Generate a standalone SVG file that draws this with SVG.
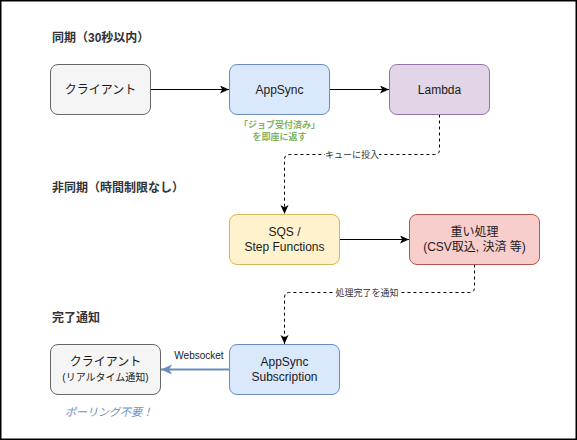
<svg xmlns="http://www.w3.org/2000/svg" width="577" height="440" viewBox="0 0 577 440">
<style>
.f{font-family:"Liberation Sans","Noto Sans CJK JP",sans-serif}
.h{font-size:12px;font-weight:bold;fill:#333333}
.t{font-size:12px;fill:#1a1a1a;text-anchor:middle}
.s{font-size:10px;fill:#1a1a1a;text-anchor:middle}
.lbl{font-size:9px;fill:#333333;text-anchor:middle}
.box{stroke-width:1}
.conn{fill:none;stroke:#000;stroke-width:1}
.dash{stroke-dasharray:3 3}
</style>
<defs>
<marker id="arr" markerUnits="userSpaceOnUse" markerWidth="12" markerHeight="12" refX="9" refY="4" orient="auto">
<path d="M0,0 L9,4 L0,8 L2.2,4 Z" fill="#000"/>
</marker>
<marker id="arrb" markerUnits="userSpaceOnUse" markerWidth="14" markerHeight="14" refX="11" refY="5" orient="auto">
<path d="M0,0 L11,5 L0,10 L2.8,5 Z" fill="#6c8ebf"/>
</marker>
</defs>
<rect x="0.75" y="0.75" width="575.5" height="438.5" fill="#ffffff" stroke="#000" stroke-width="1.5"/>

<text class="f h" x="52" y="42">同期（30秒以内）</text>
<text class="f h" x="52" y="192">非同期（時間制限なし）</text>
<text class="f h" x="52" y="322">完了通知</text>

<g id="connectors">
<path class="conn" d="M150.5,89.5 L229,89.5" marker-end="url(#arr)"/>
<path class="conn" d="M329.5,89.5 L389,89.5" marker-end="url(#arr)"/>
<path class="conn dash" d="M439.5,114.5 L439.5,149.5 Q439.5,154.5 434.5,154.5 L289.5,154.5 Q284.5,154.5 284.5,159.5 L284.5,214" marker-end="url(#arr)"/>
<rect x="325" y="148" width="54" height="12" fill="#ffffff"/>
<text class="f lbl" x="352" y="157.5">キューに投入</text>
<path class="conn" d="M339.5,239.5 L409,239.5" marker-end="url(#arr)"/>
<path class="conn dash" d="M474.5,264.5 L474.5,287.5 Q474.5,292.5 469.5,292.5 L289.5,292.5 Q284.5,292.5 284.5,297.5 L284.5,344" marker-end="url(#arr)"/>
<rect x="335" y="286" width="64" height="12" fill="#ffffff"/>
<text class="f lbl" x="367" y="295.5">処理完了を通知</text>
<path d="M229,369.5 L161,369.5" fill="none" stroke="#6c8ebf" stroke-width="2" marker-end="url(#arrb)"/>
<text class="f" x="199" y="359" font-size="10px" fill="#1a1a1a" text-anchor="middle">Websocket</text>
</g>

<g id="client1">
<rect class="box" x="50.5" y="64.5" width="100" height="50" rx="7.5" fill="#f5f5f5" stroke="#666666"/>
<text class="f t" x="100.5" y="94">クライアント</text>
</g>
<g id="appsync">
<rect class="box" x="229.5" y="64.5" width="100" height="50" rx="7.5" fill="#dae8fc" stroke="#6c8ebf"/>
<text class="f t" x="279.5" y="94">AppSync</text>
<text class="f" x="279.5" y="127.5" font-size="9px" font-weight="bold" fill="#82b366" text-anchor="middle">「ジョブ受付済み」</text>
<text class="f" x="279.5" y="139.5" font-size="9px" font-weight="bold" fill="#82b366" text-anchor="middle">を即座に返す</text>
</g>
<g id="lambda">
<rect class="box" x="389.5" y="64.5" width="100" height="50" rx="7.5" fill="#e1d5e7" stroke="#9673a6"/>
<text class="f t" x="439.5" y="94">Lambda</text>
</g>
<g id="sqs">
<rect class="box" x="229.5" y="214.5" width="110" height="50" rx="7.5" fill="#fff2cc" stroke="#d6b656"/>
<text class="f t" x="284.5" y="236">SQS /</text>
<text class="f t" x="284.5" y="251">Step Functions</text>
</g>
<g id="heavy">
<rect class="box" x="409.5" y="214.5" width="130" height="50" rx="7.5" fill="#f8cecc" stroke="#b85450"/>
<text class="f t" x="474.5" y="236">重い処理</text>
<text class="f t" x="474.5" y="251">(CSV取込, 決済 等)</text>
</g>
<g id="client2">
<rect class="box" x="50.5" y="344.5" width="110" height="50" rx="7.5" fill="#f5f5f5" stroke="#666666"/>
<text class="f t" x="105.5" y="366">クライアント</text>
<text class="f s" x="105.5" y="381">(リアルタイム通知)</text>
<text class="f" x="109" y="416" font-size="11px" font-style="italic" fill="#6c8ebf" text-anchor="middle">ポーリング不要！</text>
</g>
<g id="subscription">
<rect class="box" x="229.5" y="344.5" width="110" height="50" rx="7.5" fill="#dae8fc" stroke="#6c8ebf"/>
<text class="f t" x="284.5" y="366">AppSync</text>
<text class="f t" x="284.5" y="381">Subscription</text>
</g>
</svg>
